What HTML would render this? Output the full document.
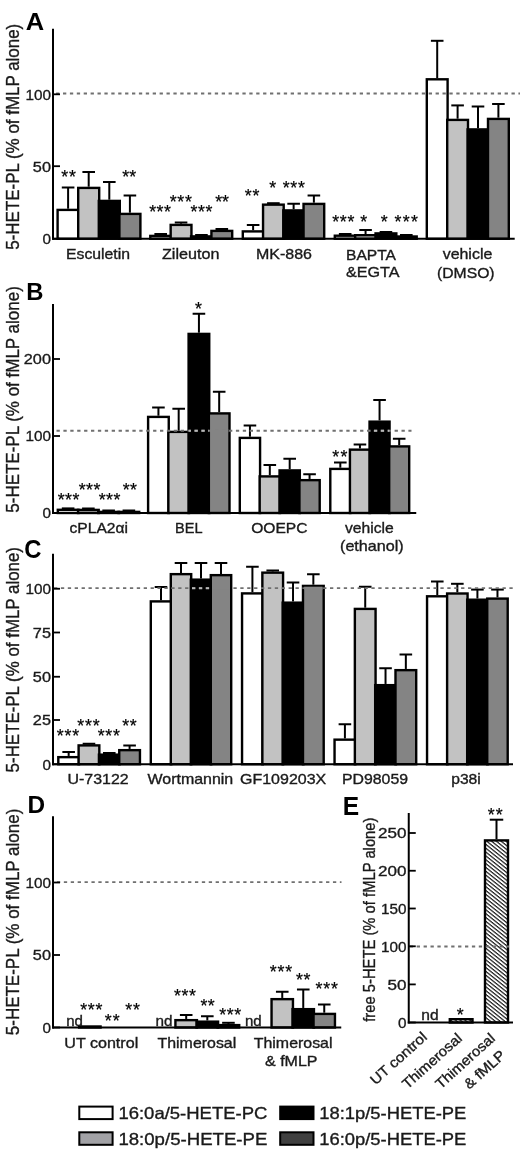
<!DOCTYPE html>
<html lang="en"><head><meta charset="utf-8"><title>Figure</title>
<style>html,body{margin:0;padding:0;background:#fff}svg{display:block}</style></head><body>
<svg width="520" height="1150" viewBox="0 0 520 1150" font-family='"Liberation Sans", Arial, Helvetica, sans-serif'>
<defs><pattern id="hatch" patternUnits="userSpaceOnUse" width="4.8" height="3.85" patternTransform="skewY(38.7)"><rect width="4.8" height="3.85" fill="#fff"/><rect y="0" width="4.8" height="1.55" fill="#1c1c1c"/></pattern></defs>
<rect width="520" height="1150" fill="#fff"/>
<line x1="68.10" y1="187.50" x2="68.10" y2="208.70" stroke="#000" stroke-width="2.0"/>
<line x1="61.80" y1="187.50" x2="74.40" y2="187.50" stroke="#000" stroke-width="2.0"/>
<rect x="57.60" y="209.90" width="21.00" height="28.85" fill="#ffffff" stroke="#000" stroke-width="2.4"/>
<line x1="88.70" y1="172.00" x2="88.70" y2="186.70" stroke="#000" stroke-width="2.0"/>
<line x1="82.40" y1="172.00" x2="95.00" y2="172.00" stroke="#000" stroke-width="2.0"/>
<rect x="78.20" y="187.90" width="21.00" height="50.85" fill="#c2c2c2" stroke="#000" stroke-width="2.4"/>
<line x1="109.30" y1="182.00" x2="109.30" y2="199.70" stroke="#000" stroke-width="2.0"/>
<line x1="103.00" y1="182.00" x2="115.60" y2="182.00" stroke="#000" stroke-width="2.0"/>
<rect x="98.80" y="200.90" width="21.00" height="37.85" fill="#000000" stroke="#000" stroke-width="2.4"/>
<line x1="129.90" y1="195.50" x2="129.90" y2="212.70" stroke="#000" stroke-width="2.0"/>
<line x1="123.60" y1="195.50" x2="136.20" y2="195.50" stroke="#000" stroke-width="2.0"/>
<rect x="119.40" y="213.90" width="21.00" height="24.85" fill="#848484" stroke="#000" stroke-width="2.4"/>
<line x1="160.69" y1="234.00" x2="160.69" y2="234.70" stroke="#000" stroke-width="2.0"/>
<line x1="154.39" y1="234.00" x2="166.99" y2="234.00" stroke="#000" stroke-width="2.0"/>
<rect x="150.30" y="235.90" width="20.78" height="2.85" fill="#ffffff" stroke="#000" stroke-width="2.4"/>
<line x1="181.06" y1="222.50" x2="181.06" y2="223.70" stroke="#000" stroke-width="2.0"/>
<line x1="174.76" y1="222.50" x2="187.36" y2="222.50" stroke="#000" stroke-width="2.0"/>
<rect x="170.67" y="224.90" width="20.78" height="13.85" fill="#c2c2c2" stroke="#000" stroke-width="2.4"/>
<line x1="201.44" y1="235.00" x2="201.44" y2="235.20" stroke="#000" stroke-width="2.0"/>
<line x1="195.14" y1="235.00" x2="207.74" y2="235.00" stroke="#000" stroke-width="2.0"/>
<rect x="191.05" y="236.40" width="20.78" height="2.35" fill="#000000" stroke="#000" stroke-width="2.4"/>
<line x1="221.81" y1="229.00" x2="221.81" y2="229.70" stroke="#000" stroke-width="2.0"/>
<line x1="215.51" y1="229.00" x2="228.11" y2="229.00" stroke="#000" stroke-width="2.0"/>
<rect x="211.42" y="230.90" width="20.78" height="7.85" fill="#848484" stroke="#000" stroke-width="2.4"/>
<line x1="253.12" y1="225.00" x2="253.12" y2="230.20" stroke="#000" stroke-width="2.0"/>
<line x1="246.82" y1="225.00" x2="259.43" y2="225.00" stroke="#000" stroke-width="2.0"/>
<rect x="242.80" y="231.40" width="20.65" height="7.35" fill="#ffffff" stroke="#000" stroke-width="2.4"/>
<line x1="273.38" y1="203.20" x2="273.38" y2="203.45" stroke="#000" stroke-width="2.0"/>
<line x1="267.07" y1="203.20" x2="279.68" y2="203.20" stroke="#000" stroke-width="2.0"/>
<rect x="263.05" y="204.65" width="20.65" height="34.10" fill="#c2c2c2" stroke="#000" stroke-width="2.4"/>
<line x1="293.62" y1="203.75" x2="293.62" y2="209.20" stroke="#000" stroke-width="2.0"/>
<line x1="287.32" y1="203.75" x2="299.93" y2="203.75" stroke="#000" stroke-width="2.0"/>
<rect x="283.30" y="210.40" width="20.65" height="28.35" fill="#000000" stroke="#000" stroke-width="2.4"/>
<line x1="313.88" y1="195.50" x2="313.88" y2="202.70" stroke="#000" stroke-width="2.0"/>
<line x1="307.57" y1="195.50" x2="320.18" y2="195.50" stroke="#000" stroke-width="2.0"/>
<rect x="303.55" y="203.90" width="20.65" height="34.85" fill="#848484" stroke="#000" stroke-width="2.4"/>
<line x1="345.19" y1="234.00" x2="345.19" y2="234.50" stroke="#000" stroke-width="2.0"/>
<line x1="338.89" y1="234.00" x2="351.49" y2="234.00" stroke="#000" stroke-width="2.0"/>
<rect x="334.80" y="235.70" width="20.77" height="3.05" fill="#ffffff" stroke="#000" stroke-width="2.4"/>
<line x1="365.56" y1="230.00" x2="365.56" y2="234.00" stroke="#000" stroke-width="2.0"/>
<line x1="359.26" y1="230.00" x2="371.86" y2="230.00" stroke="#000" stroke-width="2.0"/>
<rect x="355.18" y="235.20" width="20.77" height="3.55" fill="#c2c2c2" stroke="#000" stroke-width="2.4"/>
<line x1="385.94" y1="232.00" x2="385.94" y2="232.20" stroke="#000" stroke-width="2.0"/>
<line x1="379.64" y1="232.00" x2="392.24" y2="232.00" stroke="#000" stroke-width="2.0"/>
<rect x="375.55" y="233.40" width="20.77" height="5.35" fill="#000000" stroke="#000" stroke-width="2.4"/>
<line x1="406.31" y1="235.00" x2="406.31" y2="235.30" stroke="#000" stroke-width="2.0"/>
<line x1="400.01" y1="235.00" x2="412.61" y2="235.00" stroke="#000" stroke-width="2.0"/>
<rect x="395.93" y="236.50" width="20.77" height="2.25" fill="#848484" stroke="#000" stroke-width="2.4"/>
<line x1="437.20" y1="40.80" x2="437.20" y2="78.10" stroke="#000" stroke-width="2.0"/>
<line x1="430.90" y1="40.80" x2="443.50" y2="40.80" stroke="#000" stroke-width="2.0"/>
<rect x="426.80" y="79.30" width="20.80" height="159.45" fill="#ffffff" stroke="#000" stroke-width="2.4"/>
<line x1="457.60" y1="105.40" x2="457.60" y2="118.70" stroke="#000" stroke-width="2.0"/>
<line x1="451.30" y1="105.40" x2="463.90" y2="105.40" stroke="#000" stroke-width="2.0"/>
<rect x="447.20" y="119.90" width="20.80" height="118.85" fill="#c2c2c2" stroke="#000" stroke-width="2.4"/>
<line x1="478.00" y1="106.50" x2="478.00" y2="128.20" stroke="#000" stroke-width="2.0"/>
<line x1="471.70" y1="106.50" x2="484.30" y2="106.50" stroke="#000" stroke-width="2.0"/>
<rect x="467.60" y="129.40" width="20.80" height="109.35" fill="#000000" stroke="#000" stroke-width="2.4"/>
<line x1="498.40" y1="104.00" x2="498.40" y2="117.70" stroke="#000" stroke-width="2.0"/>
<line x1="492.10" y1="104.00" x2="504.70" y2="104.00" stroke="#000" stroke-width="2.0"/>
<rect x="488.00" y="118.90" width="20.80" height="119.85" fill="#848484" stroke="#000" stroke-width="2.4"/>
<line x1="56.10" y1="93.50" x2="520.00" y2="93.50" stroke="#707070" stroke-width="1.8" stroke-dasharray="3.3 3.6"/>
<line x1="53.00" y1="28.75" x2="53.00" y2="239.75" stroke="#000" stroke-width="2.0"/>
<line x1="52.00" y1="238.75" x2="514.70" y2="238.75" stroke="#000" stroke-width="2.0"/>
<line x1="53.00" y1="94.30" x2="60.00" y2="94.30" stroke="#000" stroke-width="1.8"/>
<text x="50.95" y="99.75" font-size="15.3" text-anchor="end" textLength="25.50" lengthAdjust="spacingAndGlyphs" fill="#1a1a1a" stroke="#1a1a1a" stroke-width="0.35">100</text>
<line x1="53.00" y1="166.20" x2="60.00" y2="166.20" stroke="#000" stroke-width="1.8"/>
<text x="50.95" y="171.65" font-size="15.3" text-anchor="end" textLength="18.10" lengthAdjust="spacingAndGlyphs" fill="#1a1a1a" stroke="#1a1a1a" stroke-width="0.35">50</text>
<line x1="53.00" y1="238.75" x2="60.00" y2="238.75" stroke="#000" stroke-width="1.8"/>
<text x="50.95" y="244.20" font-size="15.3" text-anchor="end" textLength="8.50" lengthAdjust="spacingAndGlyphs" fill="#1a1a1a" stroke="#1a1a1a" stroke-width="0.35">0</text>
<text x="25.80" y="30.00" font-size="24.6" font-weight="bold" textLength="18.40" lengthAdjust="spacingAndGlyphs" fill="#000">A</text>
<text transform="translate(18.80,249.70) rotate(-90)" font-size="17.5" textLength="225.95" lengthAdjust="spacingAndGlyphs" fill="#1a1a1a" stroke="#1a1a1a" stroke-width="0.35">5-HETE-PL (% of fMLP alone)</text>
<text x="61.20" y="183.40" font-size="17.8" textLength="14.70" lengthAdjust="spacing" fill="#000" stroke="#000" stroke-width="0.2">**</text>
<text x="122.20" y="183.40" font-size="17.8" textLength="14.00" lengthAdjust="spacing" fill="#000" stroke="#000" stroke-width="0.2">**</text>
<text x="149.20" y="218.40" font-size="17.8" textLength="21.70" lengthAdjust="spacing" fill="#000" stroke="#000" stroke-width="0.2">***</text>
<text x="169.70" y="207.90" font-size="17.8" textLength="22.20" lengthAdjust="spacing" fill="#000" stroke="#000" stroke-width="0.2">***</text>
<text x="190.40" y="218.40" font-size="17.8" textLength="22.00" lengthAdjust="spacing" fill="#000" stroke="#000" stroke-width="0.2">***</text>
<text x="215.20" y="207.90" font-size="17.8" textLength="13.70" lengthAdjust="spacing" fill="#000" stroke="#000" stroke-width="0.2">**</text>
<text x="244.70" y="201.90" font-size="17.8" textLength="14.70" lengthAdjust="spacing" fill="#000" stroke="#000" stroke-width="0.2">**</text>
<text x="269.20" y="194.30" font-size="17.8" textLength="7.70" lengthAdjust="spacing" fill="#000" stroke="#000" stroke-width="0.2">*</text>
<text x="282.70" y="194.30" font-size="17.8" textLength="22.20" lengthAdjust="spacing" fill="#000" stroke="#000" stroke-width="0.2">***</text>
<text x="332.20" y="228.10" font-size="17.8" textLength="22.20" lengthAdjust="spacing" fill="#000" stroke="#000" stroke-width="0.2">***</text>
<text x="360.20" y="228.10" font-size="17.8" textLength="7.70" lengthAdjust="spacing" fill="#000" stroke="#000" stroke-width="0.2">*</text>
<text x="380.70" y="228.10" font-size="17.8" textLength="7.70" lengthAdjust="spacing" fill="#000" stroke="#000" stroke-width="0.2">*</text>
<text x="394.50" y="228.10" font-size="17.8" textLength="23.40" lengthAdjust="spacing" fill="#000" stroke="#000" stroke-width="0.2">***</text>
<text x="66.00" y="259.00" font-size="14.6" textLength="64.00" lengthAdjust="spacingAndGlyphs" fill="#1a1a1a" stroke="#1a1a1a" stroke-width="0.35">Esculetin</text>
<text x="162.00" y="259.00" font-size="14.6" textLength="57.50" lengthAdjust="spacingAndGlyphs" fill="#1a1a1a" stroke="#1a1a1a" stroke-width="0.35">Zileuton</text>
<text x="256.00" y="259.00" font-size="14.6" textLength="56.00" lengthAdjust="spacingAndGlyphs" fill="#1a1a1a" stroke="#1a1a1a" stroke-width="0.35">MK-886</text>
<text x="346.00" y="260.00" font-size="14.6" textLength="50.00" lengthAdjust="spacingAndGlyphs" fill="#1a1a1a" stroke="#1a1a1a" stroke-width="0.35">BAPTA</text>
<text x="346.00" y="277.00" font-size="14.6" textLength="53.50" lengthAdjust="spacingAndGlyphs" fill="#1a1a1a" stroke="#1a1a1a" stroke-width="0.35">&amp;EGTA</text>
<text x="442.70" y="258.50" font-size="14.6" textLength="49.60" lengthAdjust="spacingAndGlyphs" fill="#1a1a1a" stroke="#1a1a1a" stroke-width="0.35">vehicle</text>
<text x="437.00" y="278.00" font-size="14.6" textLength="57.60" lengthAdjust="spacingAndGlyphs" fill="#1a1a1a" stroke="#1a1a1a" stroke-width="0.35">(DMSO)</text>
<line x1="68.12" y1="508.40" x2="68.12" y2="508.60" stroke="#000" stroke-width="2.0"/>
<line x1="61.83" y1="508.40" x2="74.42" y2="508.40" stroke="#000" stroke-width="2.0"/>
<rect x="57.80" y="509.80" width="20.65" height="3.20" fill="#ffffff" stroke="#000" stroke-width="2.4"/>
<line x1="88.38" y1="508.50" x2="88.38" y2="508.70" stroke="#000" stroke-width="2.0"/>
<line x1="82.08" y1="508.50" x2="94.67" y2="508.50" stroke="#000" stroke-width="2.0"/>
<rect x="78.05" y="509.90" width="20.65" height="3.10" fill="#c2c2c2" stroke="#000" stroke-width="2.4"/>
<line x1="108.62" y1="510.50" x2="108.62" y2="510.70" stroke="#000" stroke-width="2.0"/>
<line x1="102.33" y1="510.50" x2="114.92" y2="510.50" stroke="#000" stroke-width="2.0"/>
<rect x="98.30" y="511.90" width="20.65" height="1.10" fill="#000000" stroke="#000" stroke-width="2.4"/>
<line x1="128.88" y1="510.50" x2="128.88" y2="510.70" stroke="#000" stroke-width="2.0"/>
<line x1="122.58" y1="510.50" x2="135.18" y2="510.50" stroke="#000" stroke-width="2.0"/>
<rect x="118.55" y="511.90" width="20.65" height="1.10" fill="#848484" stroke="#000" stroke-width="2.4"/>
<line x1="158.43" y1="407.50" x2="158.43" y2="415.70" stroke="#000" stroke-width="2.0"/>
<line x1="152.12" y1="407.50" x2="164.73" y2="407.50" stroke="#000" stroke-width="2.0"/>
<rect x="148.10" y="416.90" width="20.65" height="96.10" fill="#ffffff" stroke="#000" stroke-width="2.4"/>
<line x1="178.68" y1="408.75" x2="178.68" y2="430.70" stroke="#000" stroke-width="2.0"/>
<line x1="172.38" y1="408.75" x2="184.98" y2="408.75" stroke="#000" stroke-width="2.0"/>
<rect x="168.35" y="431.90" width="20.65" height="81.10" fill="#c2c2c2" stroke="#000" stroke-width="2.4"/>
<line x1="198.93" y1="313.75" x2="198.93" y2="332.70" stroke="#000" stroke-width="2.0"/>
<line x1="192.62" y1="313.75" x2="205.23" y2="313.75" stroke="#000" stroke-width="2.0"/>
<rect x="188.60" y="333.90" width="20.65" height="179.10" fill="#000000" stroke="#000" stroke-width="2.4"/>
<line x1="219.18" y1="391.75" x2="219.18" y2="412.20" stroke="#000" stroke-width="2.0"/>
<line x1="212.88" y1="391.75" x2="225.48" y2="391.75" stroke="#000" stroke-width="2.0"/>
<rect x="208.85" y="413.40" width="20.65" height="99.60" fill="#848484" stroke="#000" stroke-width="2.4"/>
<line x1="249.94" y1="425.50" x2="249.94" y2="436.70" stroke="#000" stroke-width="2.0"/>
<line x1="243.64" y1="425.50" x2="256.24" y2="425.50" stroke="#000" stroke-width="2.0"/>
<rect x="239.80" y="437.90" width="20.27" height="75.10" fill="#ffffff" stroke="#000" stroke-width="2.4"/>
<line x1="269.81" y1="465.00" x2="269.81" y2="475.20" stroke="#000" stroke-width="2.0"/>
<line x1="263.51" y1="465.00" x2="276.11" y2="465.00" stroke="#000" stroke-width="2.0"/>
<rect x="259.68" y="476.40" width="20.27" height="36.60" fill="#c2c2c2" stroke="#000" stroke-width="2.4"/>
<line x1="289.69" y1="458.75" x2="289.69" y2="469.20" stroke="#000" stroke-width="2.0"/>
<line x1="283.39" y1="458.75" x2="295.99" y2="458.75" stroke="#000" stroke-width="2.0"/>
<rect x="279.55" y="470.40" width="20.27" height="42.60" fill="#000000" stroke="#000" stroke-width="2.4"/>
<line x1="309.56" y1="474.25" x2="309.56" y2="478.95" stroke="#000" stroke-width="2.0"/>
<line x1="303.26" y1="474.25" x2="315.86" y2="474.25" stroke="#000" stroke-width="2.0"/>
<rect x="299.43" y="480.15" width="20.27" height="32.85" fill="#848484" stroke="#000" stroke-width="2.4"/>
<line x1="340.31" y1="462.50" x2="340.31" y2="467.70" stroke="#000" stroke-width="2.0"/>
<line x1="334.01" y1="462.50" x2="346.61" y2="462.50" stroke="#000" stroke-width="2.0"/>
<rect x="330.30" y="468.90" width="20.02" height="44.10" fill="#ffffff" stroke="#000" stroke-width="2.4"/>
<line x1="359.94" y1="444.50" x2="359.94" y2="448.45" stroke="#000" stroke-width="2.0"/>
<line x1="353.64" y1="444.50" x2="366.24" y2="444.50" stroke="#000" stroke-width="2.0"/>
<rect x="349.93" y="449.65" width="20.02" height="63.35" fill="#c2c2c2" stroke="#000" stroke-width="2.4"/>
<line x1="379.56" y1="400.00" x2="379.56" y2="420.45" stroke="#000" stroke-width="2.0"/>
<line x1="373.26" y1="400.00" x2="385.86" y2="400.00" stroke="#000" stroke-width="2.0"/>
<rect x="369.55" y="421.65" width="20.02" height="91.35" fill="#000000" stroke="#000" stroke-width="2.4"/>
<line x1="399.19" y1="438.75" x2="399.19" y2="445.20" stroke="#000" stroke-width="2.0"/>
<line x1="392.89" y1="438.75" x2="405.49" y2="438.75" stroke="#000" stroke-width="2.0"/>
<rect x="389.18" y="446.40" width="20.02" height="66.60" fill="#848484" stroke="#000" stroke-width="2.4"/>
<line x1="56.50" y1="430.75" x2="411.50" y2="430.75" stroke="#707070" stroke-width="1.8" stroke-dasharray="3.3 3.6"/>
<clipPath id="bk1"><rect x="188.80" y="427.75" width="20.25" height="6"/><rect x="369.75" y="427.75" width="19.62" height="6"/></clipPath>
<line x1="56.50" y1="430.75" x2="411.50" y2="430.75" stroke="#b8b8b8" stroke-width="1.9" stroke-dasharray="3.3 3.6" clip-path="url(#bk1)"/>
<rect x="210.05" y="429.25" width="18.25" height="3" fill="#848484"/>
<line x1="53.00" y1="304.00" x2="53.00" y2="514.00" stroke="#000" stroke-width="2.0"/>
<line x1="52.00" y1="513.00" x2="416.25" y2="513.00" stroke="#000" stroke-width="2.0"/>
<line x1="53.00" y1="359.00" x2="60.00" y2="359.00" stroke="#000" stroke-width="1.8"/>
<text x="50.95" y="364.45" font-size="15.3" text-anchor="end" textLength="27.15" lengthAdjust="spacingAndGlyphs" fill="#1a1a1a" stroke="#1a1a1a" stroke-width="0.35">200</text>
<line x1="53.00" y1="436.00" x2="60.00" y2="436.00" stroke="#000" stroke-width="1.8"/>
<text x="50.95" y="441.45" font-size="15.3" text-anchor="end" textLength="25.50" lengthAdjust="spacingAndGlyphs" fill="#1a1a1a" stroke="#1a1a1a" stroke-width="0.35">100</text>
<line x1="53.00" y1="513.00" x2="60.00" y2="513.00" stroke="#000" stroke-width="1.8"/>
<text x="50.95" y="518.45" font-size="15.3" text-anchor="end" textLength="8.50" lengthAdjust="spacingAndGlyphs" fill="#1a1a1a" stroke="#1a1a1a" stroke-width="0.35">0</text>
<text x="26.30" y="300.10" font-size="23.7" font-weight="bold" textLength="17.20" lengthAdjust="spacingAndGlyphs" fill="#000">B</text>
<text transform="translate(18.80,512.70) rotate(-90)" font-size="17.5" textLength="226.50" lengthAdjust="spacingAndGlyphs" fill="#1a1a1a" stroke="#1a1a1a" stroke-width="0.35">5-HETE-PL (% of fMLP alone)</text>
<text x="57.70" y="505.90" font-size="17.8" textLength="21.70" lengthAdjust="spacing" fill="#000" stroke="#000" stroke-width="0.2">***</text>
<text x="78.70" y="495.90" font-size="17.8" textLength="21.70" lengthAdjust="spacing" fill="#000" stroke="#000" stroke-width="0.2">***</text>
<text x="98.70" y="505.90" font-size="17.8" textLength="21.70" lengthAdjust="spacing" fill="#000" stroke="#000" stroke-width="0.2">***</text>
<text x="122.70" y="495.90" font-size="17.8" textLength="14.20" lengthAdjust="spacing" fill="#000" stroke="#000" stroke-width="0.2">**</text>
<text x="195.00" y="314.90" font-size="17.8" textLength="7.70" lengthAdjust="spacing" fill="#000" stroke="#000" stroke-width="0.2">*</text>
<text x="332.20" y="462.65" font-size="17.8" textLength="15.20" lengthAdjust="spacing" fill="#000" stroke="#000" stroke-width="0.2">**</text>
<text x="69.50" y="532.50" font-size="14.6" textLength="58.50" lengthAdjust="spacingAndGlyphs" fill="#1a1a1a" stroke="#1a1a1a" stroke-width="0.35">cPLA2αi</text>
<text x="175.00" y="532.50" font-size="14.6" textLength="27.50" lengthAdjust="spacingAndGlyphs" fill="#1a1a1a" stroke="#1a1a1a" stroke-width="0.35">BEL</text>
<text x="251.25" y="532.50" font-size="14.6" textLength="56.25" lengthAdjust="spacingAndGlyphs" fill="#1a1a1a" stroke="#1a1a1a" stroke-width="0.35">OOEPC</text>
<text x="345.00" y="532.50" font-size="14.6" textLength="48.75" lengthAdjust="spacingAndGlyphs" fill="#1a1a1a" stroke="#1a1a1a" stroke-width="0.35">vehicle</text>
<text x="340.00" y="551.25" font-size="14.6" textLength="63.75" lengthAdjust="spacingAndGlyphs" fill="#1a1a1a" stroke="#1a1a1a" stroke-width="0.35">(ethanol)</text>
<line x1="68.66" y1="752.00" x2="68.66" y2="755.95" stroke="#000" stroke-width="2.0"/>
<line x1="62.36" y1="752.00" x2="74.96" y2="752.00" stroke="#000" stroke-width="2.0"/>
<rect x="58.30" y="757.15" width="20.71" height="7.10" fill="#ffffff" stroke="#000" stroke-width="2.4"/>
<line x1="88.97" y1="743.75" x2="88.97" y2="744.20" stroke="#000" stroke-width="2.0"/>
<line x1="82.67" y1="743.75" x2="95.27" y2="743.75" stroke="#000" stroke-width="2.0"/>
<rect x="78.61" y="745.40" width="20.71" height="18.85" fill="#c2c2c2" stroke="#000" stroke-width="2.4"/>
<line x1="109.28" y1="753.00" x2="109.28" y2="753.45" stroke="#000" stroke-width="2.0"/>
<line x1="102.98" y1="753.00" x2="115.58" y2="753.00" stroke="#000" stroke-width="2.0"/>
<rect x="98.92" y="754.65" width="20.71" height="9.60" fill="#000000" stroke="#000" stroke-width="2.4"/>
<line x1="129.59" y1="745.50" x2="129.59" y2="748.95" stroke="#000" stroke-width="2.0"/>
<line x1="123.29" y1="745.50" x2="135.89" y2="745.50" stroke="#000" stroke-width="2.0"/>
<rect x="119.24" y="750.15" width="20.71" height="14.10" fill="#848484" stroke="#000" stroke-width="2.4"/>
<line x1="161.00" y1="587.00" x2="161.00" y2="600.20" stroke="#000" stroke-width="2.0"/>
<line x1="154.70" y1="587.00" x2="167.30" y2="587.00" stroke="#000" stroke-width="2.0"/>
<rect x="150.80" y="601.40" width="20.40" height="162.85" fill="#ffffff" stroke="#000" stroke-width="2.4"/>
<line x1="181.00" y1="563.00" x2="181.00" y2="572.95" stroke="#000" stroke-width="2.0"/>
<line x1="174.70" y1="563.00" x2="187.30" y2="563.00" stroke="#000" stroke-width="2.0"/>
<rect x="170.80" y="574.15" width="20.40" height="190.10" fill="#c2c2c2" stroke="#000" stroke-width="2.4"/>
<line x1="201.00" y1="563.00" x2="201.00" y2="578.45" stroke="#000" stroke-width="2.0"/>
<line x1="194.70" y1="563.00" x2="207.30" y2="563.00" stroke="#000" stroke-width="2.0"/>
<rect x="190.80" y="579.65" width="20.40" height="184.60" fill="#000000" stroke="#000" stroke-width="2.4"/>
<line x1="221.00" y1="563.00" x2="221.00" y2="573.95" stroke="#000" stroke-width="2.0"/>
<line x1="214.70" y1="563.00" x2="227.30" y2="563.00" stroke="#000" stroke-width="2.0"/>
<rect x="210.80" y="575.15" width="20.40" height="189.10" fill="#848484" stroke="#000" stroke-width="2.4"/>
<line x1="252.41" y1="566.75" x2="252.41" y2="592.20" stroke="#000" stroke-width="2.0"/>
<line x1="246.11" y1="566.75" x2="258.71" y2="566.75" stroke="#000" stroke-width="2.0"/>
<rect x="242.05" y="593.40" width="20.71" height="170.85" fill="#ffffff" stroke="#000" stroke-width="2.4"/>
<line x1="272.72" y1="570.50" x2="272.72" y2="571.45" stroke="#000" stroke-width="2.0"/>
<line x1="266.42" y1="570.50" x2="279.02" y2="570.50" stroke="#000" stroke-width="2.0"/>
<rect x="262.36" y="572.65" width="20.71" height="191.60" fill="#c2c2c2" stroke="#000" stroke-width="2.4"/>
<line x1="293.03" y1="582.50" x2="293.03" y2="601.45" stroke="#000" stroke-width="2.0"/>
<line x1="286.73" y1="582.50" x2="299.33" y2="582.50" stroke="#000" stroke-width="2.0"/>
<rect x="282.68" y="602.65" width="20.71" height="161.60" fill="#000000" stroke="#000" stroke-width="2.4"/>
<line x1="313.34" y1="574.25" x2="313.34" y2="584.70" stroke="#000" stroke-width="2.0"/>
<line x1="307.04" y1="574.25" x2="319.64" y2="574.25" stroke="#000" stroke-width="2.0"/>
<rect x="302.99" y="585.90" width="20.71" height="178.35" fill="#848484" stroke="#000" stroke-width="2.4"/>
<line x1="344.91" y1="724.25" x2="344.91" y2="738.45" stroke="#000" stroke-width="2.0"/>
<line x1="338.61" y1="724.25" x2="351.21" y2="724.25" stroke="#000" stroke-width="2.0"/>
<rect x="334.55" y="739.65" width="20.71" height="24.60" fill="#ffffff" stroke="#000" stroke-width="2.4"/>
<line x1="365.22" y1="586.75" x2="365.22" y2="607.70" stroke="#000" stroke-width="2.0"/>
<line x1="358.92" y1="586.75" x2="371.52" y2="586.75" stroke="#000" stroke-width="2.0"/>
<rect x="354.86" y="608.90" width="20.71" height="155.35" fill="#c2c2c2" stroke="#000" stroke-width="2.4"/>
<line x1="385.53" y1="668.25" x2="385.53" y2="683.95" stroke="#000" stroke-width="2.0"/>
<line x1="379.23" y1="668.25" x2="391.83" y2="668.25" stroke="#000" stroke-width="2.0"/>
<rect x="375.18" y="685.15" width="20.71" height="79.10" fill="#000000" stroke="#000" stroke-width="2.4"/>
<line x1="405.84" y1="654.50" x2="405.84" y2="668.95" stroke="#000" stroke-width="2.0"/>
<line x1="399.54" y1="654.50" x2="412.14" y2="654.50" stroke="#000" stroke-width="2.0"/>
<rect x="395.49" y="670.15" width="20.71" height="94.10" fill="#848484" stroke="#000" stroke-width="2.4"/>
<line x1="437.28" y1="581.50" x2="437.28" y2="595.10" stroke="#000" stroke-width="2.0"/>
<line x1="430.98" y1="581.50" x2="443.58" y2="581.50" stroke="#000" stroke-width="2.0"/>
<rect x="427.05" y="596.30" width="20.46" height="167.95" fill="#ffffff" stroke="#000" stroke-width="2.4"/>
<line x1="457.34" y1="583.80" x2="457.34" y2="592.30" stroke="#000" stroke-width="2.0"/>
<line x1="451.04" y1="583.80" x2="463.64" y2="583.80" stroke="#000" stroke-width="2.0"/>
<rect x="447.11" y="593.50" width="20.46" height="170.75" fill="#c2c2c2" stroke="#000" stroke-width="2.4"/>
<line x1="477.41" y1="589.60" x2="477.41" y2="598.50" stroke="#000" stroke-width="2.0"/>
<line x1="471.11" y1="589.60" x2="483.71" y2="589.60" stroke="#000" stroke-width="2.0"/>
<rect x="467.18" y="599.70" width="20.46" height="164.55" fill="#000000" stroke="#000" stroke-width="2.4"/>
<line x1="497.47" y1="589.60" x2="497.47" y2="597.40" stroke="#000" stroke-width="2.0"/>
<line x1="491.17" y1="589.60" x2="503.77" y2="589.60" stroke="#000" stroke-width="2.0"/>
<rect x="487.24" y="598.60" width="20.46" height="165.65" fill="#848484" stroke="#000" stroke-width="2.4"/>
<line x1="54.00" y1="588.20" x2="514.00" y2="588.20" stroke="#707070" stroke-width="1.8" stroke-dasharray="3.3 3.6"/>
<clipPath id="bk2"><rect x="191.00" y="585.20" width="20.00" height="6"/></clipPath>
<line x1="54.00" y1="588.20" x2="514.00" y2="588.20" stroke="#b8b8b8" stroke-width="1.9" stroke-dasharray="3.3 3.6" clip-path="url(#bk2)"/>
<rect x="212.00" y="586.70" width="18.00" height="3" fill="#848484"/>
<rect x="304.19" y="586.70" width="18.31" height="3" fill="#848484"/>
<line x1="53.00" y1="553.75" x2="53.00" y2="765.25" stroke="#000" stroke-width="2.0"/>
<line x1="52.00" y1="764.25" x2="513.00" y2="764.25" stroke="#000" stroke-width="2.0"/>
<line x1="53.00" y1="588.75" x2="60.00" y2="588.75" stroke="#000" stroke-width="1.8"/>
<text x="50.95" y="594.20" font-size="15.3" text-anchor="end" textLength="25.50" lengthAdjust="spacingAndGlyphs" fill="#1a1a1a" stroke="#1a1a1a" stroke-width="0.35">100</text>
<line x1="53.00" y1="632.50" x2="60.00" y2="632.50" stroke="#000" stroke-width="1.8"/>
<text x="50.95" y="637.95" font-size="15.3" text-anchor="end" textLength="18.10" lengthAdjust="spacingAndGlyphs" fill="#1a1a1a" stroke="#1a1a1a" stroke-width="0.35">75</text>
<line x1="53.00" y1="676.75" x2="60.00" y2="676.75" stroke="#000" stroke-width="1.8"/>
<text x="50.95" y="682.20" font-size="15.3" text-anchor="end" textLength="18.10" lengthAdjust="spacingAndGlyphs" fill="#1a1a1a" stroke="#1a1a1a" stroke-width="0.35">50</text>
<line x1="53.00" y1="720.00" x2="60.00" y2="720.00" stroke="#000" stroke-width="1.8"/>
<text x="50.95" y="725.45" font-size="15.3" text-anchor="end" textLength="18.10" lengthAdjust="spacingAndGlyphs" fill="#1a1a1a" stroke="#1a1a1a" stroke-width="0.35">25</text>
<line x1="53.00" y1="764.25" x2="60.00" y2="764.25" stroke="#000" stroke-width="1.8"/>
<text x="50.95" y="769.70" font-size="15.3" text-anchor="end" textLength="8.50" lengthAdjust="spacingAndGlyphs" fill="#1a1a1a" stroke="#1a1a1a" stroke-width="0.35">0</text>
<text x="24.20" y="557.90" font-size="25" font-weight="bold" textLength="17.20" lengthAdjust="spacingAndGlyphs" fill="#000">C</text>
<text transform="translate(18.80,772.40) rotate(-90)" font-size="17.5" textLength="225.40" lengthAdjust="spacingAndGlyphs" fill="#1a1a1a" stroke="#1a1a1a" stroke-width="0.35">5-HETE-PL (% of fMLP alone)</text>
<text x="56.70" y="742.40" font-size="17.8" textLength="22.45" lengthAdjust="spacing" fill="#000" stroke="#000" stroke-width="0.2">***</text>
<text x="77.20" y="731.90" font-size="17.8" textLength="22.45" lengthAdjust="spacing" fill="#000" stroke="#000" stroke-width="0.2">***</text>
<text x="97.70" y="742.40" font-size="17.8" textLength="22.20" lengthAdjust="spacing" fill="#000" stroke="#000" stroke-width="0.2">***</text>
<text x="122.20" y="731.90" font-size="17.8" textLength="14.45" lengthAdjust="spacing" fill="#000" stroke="#000" stroke-width="0.2">**</text>
<text x="67.50" y="783.75" font-size="14.6" textLength="61.25" lengthAdjust="spacingAndGlyphs" fill="#1a1a1a" stroke="#1a1a1a" stroke-width="0.35">U-73122</text>
<text x="147.50" y="783.75" font-size="14.6" textLength="85.75" lengthAdjust="spacingAndGlyphs" fill="#1a1a1a" stroke="#1a1a1a" stroke-width="0.35">Wortmannin</text>
<text x="240.00" y="783.75" font-size="14.6" textLength="86.25" lengthAdjust="spacingAndGlyphs" fill="#1a1a1a" stroke="#1a1a1a" stroke-width="0.35">GF109203X</text>
<text x="342.00" y="783.75" font-size="14.6" textLength="66.00" lengthAdjust="spacingAndGlyphs" fill="#1a1a1a" stroke="#1a1a1a" stroke-width="0.35">PD98059</text>
<text x="451.20" y="783.75" font-size="14.6" textLength="29.60" lengthAdjust="spacingAndGlyphs" fill="#1a1a1a" stroke="#1a1a1a" stroke-width="0.35">p38i</text>
<rect x="79.11" y="1026.50" width="21.46" height="1.00" fill="#c2c2c2" stroke="#000" stroke-width="2.4"/>
<line x1="186.19" y1="1015.00" x2="186.19" y2="1018.95" stroke="#000" stroke-width="2.0"/>
<line x1="179.89" y1="1015.00" x2="192.49" y2="1015.00" stroke="#000" stroke-width="2.0"/>
<rect x="175.42" y="1020.15" width="21.53" height="7.35" fill="#c2c2c2" stroke="#000" stroke-width="2.4"/>
<line x1="207.31" y1="1016.25" x2="207.31" y2="1020.45" stroke="#000" stroke-width="2.0"/>
<line x1="201.01" y1="1016.25" x2="213.61" y2="1016.25" stroke="#000" stroke-width="2.0"/>
<rect x="196.55" y="1021.65" width="21.53" height="5.85" fill="#000000" stroke="#000" stroke-width="2.4"/>
<line x1="228.44" y1="1022.80" x2="228.44" y2="1023.90" stroke="#000" stroke-width="2.0"/>
<line x1="222.14" y1="1022.80" x2="234.74" y2="1022.80" stroke="#000" stroke-width="2.0"/>
<rect x="217.67" y="1025.10" width="21.53" height="2.40" fill="#848484" stroke="#000" stroke-width="2.4"/>
<line x1="282.25" y1="991.75" x2="282.25" y2="997.95" stroke="#000" stroke-width="2.0"/>
<line x1="275.95" y1="991.75" x2="288.55" y2="991.75" stroke="#000" stroke-width="2.0"/>
<rect x="271.55" y="999.15" width="21.40" height="28.35" fill="#c2c2c2" stroke="#000" stroke-width="2.4"/>
<line x1="303.25" y1="989.50" x2="303.25" y2="1007.95" stroke="#000" stroke-width="2.0"/>
<line x1="296.95" y1="989.50" x2="309.55" y2="989.50" stroke="#000" stroke-width="2.0"/>
<rect x="292.55" y="1009.15" width="21.40" height="18.35" fill="#000000" stroke="#000" stroke-width="2.4"/>
<line x1="324.25" y1="1004.50" x2="324.25" y2="1012.70" stroke="#000" stroke-width="2.0"/>
<line x1="317.95" y1="1004.50" x2="330.55" y2="1004.50" stroke="#000" stroke-width="2.0"/>
<rect x="313.55" y="1013.90" width="21.40" height="13.60" fill="#848484" stroke="#000" stroke-width="2.4"/>
<line x1="56.95" y1="882.20" x2="341.50" y2="882.20" stroke="#707070" stroke-width="1.8" stroke-dasharray="3.3 3.6"/>
<line x1="53.00" y1="816.25" x2="53.00" y2="1028.50" stroke="#000" stroke-width="2.0"/>
<line x1="52.00" y1="1027.50" x2="341.25" y2="1027.50" stroke="#000" stroke-width="2.0"/>
<line x1="53.00" y1="882.50" x2="60.00" y2="882.50" stroke="#000" stroke-width="1.8"/>
<text x="50.95" y="887.95" font-size="15.3" text-anchor="end" textLength="25.50" lengthAdjust="spacingAndGlyphs" fill="#1a1a1a" stroke="#1a1a1a" stroke-width="0.35">100</text>
<line x1="53.00" y1="955.00" x2="60.00" y2="955.00" stroke="#000" stroke-width="1.8"/>
<text x="50.95" y="960.45" font-size="15.3" text-anchor="end" textLength="18.10" lengthAdjust="spacingAndGlyphs" fill="#1a1a1a" stroke="#1a1a1a" stroke-width="0.35">50</text>
<line x1="53.00" y1="1027.50" x2="60.00" y2="1027.50" stroke="#000" stroke-width="1.8"/>
<text x="50.95" y="1032.95" font-size="15.3" text-anchor="end" textLength="8.50" lengthAdjust="spacingAndGlyphs" fill="#1a1a1a" stroke="#1a1a1a" stroke-width="0.35">0</text>
<text x="27.60" y="813.20" font-size="23.5" font-weight="bold" textLength="17.60" lengthAdjust="spacingAndGlyphs" fill="#000">D</text>
<text transform="translate(18.80,1035.20) rotate(-90)" font-size="17.5" textLength="226.50" lengthAdjust="spacingAndGlyphs" fill="#1a1a1a" stroke="#1a1a1a" stroke-width="0.35">5-HETE-PL (% of fMLP alone)</text>
<text x="66.25" y="1026.25" font-size="14.6" textLength="16.75" lengthAdjust="spacingAndGlyphs" fill="#1a1a1a" stroke="#1a1a1a" stroke-width="0.35">nd</text>
<text x="155.50" y="1026.25" font-size="14.6" textLength="17.00" lengthAdjust="spacingAndGlyphs" fill="#1a1a1a" stroke="#1a1a1a" stroke-width="0.35">nd</text>
<text x="245.00" y="1026.25" font-size="14.6" textLength="16.75" lengthAdjust="spacingAndGlyphs" fill="#1a1a1a" stroke="#1a1a1a" stroke-width="0.35">nd</text>
<text x="80.20" y="1016.40" font-size="17.8" textLength="22.20" lengthAdjust="spacing" fill="#000" stroke="#000" stroke-width="0.2">***</text>
<text x="104.70" y="1026.90" font-size="17.8" textLength="14.95" lengthAdjust="spacing" fill="#000" stroke="#000" stroke-width="0.2">**</text>
<text x="125.20" y="1016.40" font-size="17.8" textLength="14.70" lengthAdjust="spacing" fill="#000" stroke="#000" stroke-width="0.2">**</text>
<text x="173.95" y="1002.15" font-size="17.8" textLength="21.95" lengthAdjust="spacing" fill="#000" stroke="#000" stroke-width="0.2">***</text>
<text x="200.45" y="1011.90" font-size="17.8" textLength="14.20" lengthAdjust="spacing" fill="#000" stroke="#000" stroke-width="0.2">**</text>
<text x="219.20" y="1020.65" font-size="17.8" textLength="21.95" lengthAdjust="spacing" fill="#000" stroke="#000" stroke-width="0.2">***</text>
<text x="269.70" y="978.40" font-size="17.8" textLength="22.45" lengthAdjust="spacing" fill="#000" stroke="#000" stroke-width="0.2">***</text>
<text x="295.95" y="986.40" font-size="17.8" textLength="14.45" lengthAdjust="spacing" fill="#000" stroke="#000" stroke-width="0.2">**</text>
<text x="315.45" y="995.15" font-size="17.8" textLength="22.45" lengthAdjust="spacing" fill="#000" stroke="#000" stroke-width="0.2">***</text>
<text x="64.25" y="1048.00" font-size="14.6" textLength="74.00" lengthAdjust="spacingAndGlyphs" fill="#1a1a1a" stroke="#1a1a1a" stroke-width="0.35">UT control</text>
<text x="157.50" y="1048.00" font-size="14.6" textLength="78.75" lengthAdjust="spacingAndGlyphs" fill="#1a1a1a" stroke="#1a1a1a" stroke-width="0.35">Thimerosal</text>
<text x="253.75" y="1048.00" font-size="14.6" textLength="78.75" lengthAdjust="spacingAndGlyphs" fill="#1a1a1a" stroke="#1a1a1a" stroke-width="0.35">Thimerosal</text>
<text x="265.00" y="1065.75" font-size="14.6" textLength="52.50" lengthAdjust="spacingAndGlyphs" fill="#1a1a1a" stroke="#1a1a1a" stroke-width="0.35">&amp; fMLP</text>
<rect x="449.80" y="1019.20" width="22.70" height="3.30" fill="url(#hatch)" stroke="#000" stroke-width="2.4"/>
<line x1="496.50" y1="819.70" x2="496.50" y2="839.20" stroke="#000" stroke-width="2.0"/>
<line x1="489.75" y1="819.70" x2="503.25" y2="819.70" stroke="#000" stroke-width="2.0"/>
<rect x="485.00" y="840.40" width="23.00" height="182.10" fill="url(#hatch)" stroke="#000" stroke-width="2.4"/>
<line x1="409.80" y1="946.50" x2="509.00" y2="946.50" stroke="#707070" stroke-width="1.8" stroke-dasharray="3.3 3.6"/>
<line x1="408.75" y1="813.00" x2="408.75" y2="1023.50" stroke="#000" stroke-width="2.0"/>
<line x1="407.75" y1="1022.50" x2="513.00" y2="1022.50" stroke="#000" stroke-width="2.0"/>
<line x1="408.75" y1="833.00" x2="415.75" y2="833.00" stroke="#000" stroke-width="1.8"/>
<text x="406.45" y="838.45" font-size="15.3" text-anchor="end" textLength="28.50" lengthAdjust="spacingAndGlyphs" fill="#1a1a1a" stroke="#1a1a1a" stroke-width="0.35">250</text>
<line x1="408.75" y1="870.75" x2="415.75" y2="870.75" stroke="#000" stroke-width="1.8"/>
<text x="406.45" y="876.20" font-size="15.3" text-anchor="end" textLength="28.50" lengthAdjust="spacingAndGlyphs" fill="#1a1a1a" stroke="#1a1a1a" stroke-width="0.35">200</text>
<line x1="408.75" y1="908.50" x2="415.75" y2="908.50" stroke="#000" stroke-width="1.8"/>
<text x="406.45" y="913.95" font-size="15.3" text-anchor="end" textLength="25.50" lengthAdjust="spacingAndGlyphs" fill="#1a1a1a" stroke="#1a1a1a" stroke-width="0.35">150</text>
<line x1="408.75" y1="946.30" x2="415.75" y2="946.30" stroke="#000" stroke-width="1.8"/>
<text x="406.45" y="951.75" font-size="15.3" text-anchor="end" textLength="25.50" lengthAdjust="spacingAndGlyphs" fill="#1a1a1a" stroke="#1a1a1a" stroke-width="0.35">100</text>
<line x1="408.75" y1="984.40" x2="415.75" y2="984.40" stroke="#000" stroke-width="1.8"/>
<text x="406.45" y="989.85" font-size="15.3" text-anchor="end" textLength="19.00" lengthAdjust="spacingAndGlyphs" fill="#1a1a1a" stroke="#1a1a1a" stroke-width="0.35">50</text>
<line x1="408.75" y1="1022.50" x2="415.75" y2="1022.50" stroke="#000" stroke-width="1.8"/>
<text x="406.45" y="1027.95" font-size="15.3" text-anchor="end" textLength="8.50" lengthAdjust="spacingAndGlyphs" fill="#1a1a1a" stroke="#1a1a1a" stroke-width="0.35">0</text>
<text x="342.70" y="815.10" font-size="25" font-weight="bold" textLength="16.40" lengthAdjust="spacingAndGlyphs" fill="#000">E</text>
<text transform="translate(374.80,1021.80) rotate(-90)" font-size="15.9" textLength="204.30" lengthAdjust="spacingAndGlyphs" fill="#1a1a1a" stroke="#1a1a1a" stroke-width="0.35">free 5-HETE (% of fMLP alone)</text>
<text x="421.30" y="1020.00" font-size="14.6" textLength="17.30" lengthAdjust="spacingAndGlyphs" fill="#1a1a1a" stroke="#1a1a1a" stroke-width="0.35">nd</text>
<text x="456.70" y="1020.90" font-size="17.8" textLength="7.70" lengthAdjust="spacing" fill="#000" stroke="#000" stroke-width="0.2">*</text>
<text x="487.70" y="821.20" font-size="17.8" textLength="15.00" lengthAdjust="spacing" fill="#000" stroke="#000" stroke-width="0.2">**</text>
<text transform="translate(428.00,1038.30) rotate(-42)" font-size="14.2" text-anchor="end" textLength="70.5" lengthAdjust="spacingAndGlyphs" fill="#1a1a1a" stroke="#1a1a1a" stroke-width="0.35">UT control</text>
<text transform="translate(462.90,1039.60) rotate(-42)" font-size="14.2" text-anchor="end" textLength="74.5" lengthAdjust="spacingAndGlyphs" fill="#1a1a1a" stroke="#1a1a1a" stroke-width="0.35">Thimerosal</text>
<text transform="translate(496.00,1039.60) rotate(-42)" font-size="14.2" text-anchor="end" textLength="74.5" lengthAdjust="spacingAndGlyphs" fill="#1a1a1a" stroke="#1a1a1a" stroke-width="0.35">Thimerosal</text>
<text transform="translate(506.20,1056.50) rotate(-42)" font-size="14.2" text-anchor="end" textLength="49.7" lengthAdjust="spacingAndGlyphs" fill="#1a1a1a" stroke="#1a1a1a" stroke-width="0.35">&amp; fMLP</text>
<rect x="79.30" y="1106.60" width="33.30" height="12.50" fill="#fff" stroke="#000" stroke-width="2"/>
<rect x="79.30" y="1132.30" width="33.30" height="12.50" fill="#a2a2a6" stroke="#000" stroke-width="2"/>
<rect x="280.20" y="1106.60" width="33.30" height="12.50" fill="#000" stroke="#000" stroke-width="2"/>
<rect x="280.20" y="1132.30" width="33.30" height="12.50" fill="#404040" stroke="#000" stroke-width="2"/>
<text x="118.40" y="1118.80" font-size="16.5" textLength="149.00" lengthAdjust="spacingAndGlyphs" fill="#1a1a1a" stroke="#1a1a1a" stroke-width="0.35">16:0a/5-HETE-PC</text>
<text x="118.40" y="1145.00" font-size="16.5" textLength="149.00" lengthAdjust="spacingAndGlyphs" fill="#1a1a1a" stroke="#1a1a1a" stroke-width="0.35">18:0p/5-HETE-PE</text>
<text x="319.20" y="1118.80" font-size="16.5" textLength="147.20" lengthAdjust="spacingAndGlyphs" fill="#1a1a1a" stroke="#1a1a1a" stroke-width="0.35">18:1p/5-HETE-PE</text>
<text x="319.20" y="1145.00" font-size="16.5" textLength="147.20" lengthAdjust="spacingAndGlyphs" fill="#1a1a1a" stroke="#1a1a1a" stroke-width="0.35">16:0p/5-HETE-PE</text>
</svg></body></html>
